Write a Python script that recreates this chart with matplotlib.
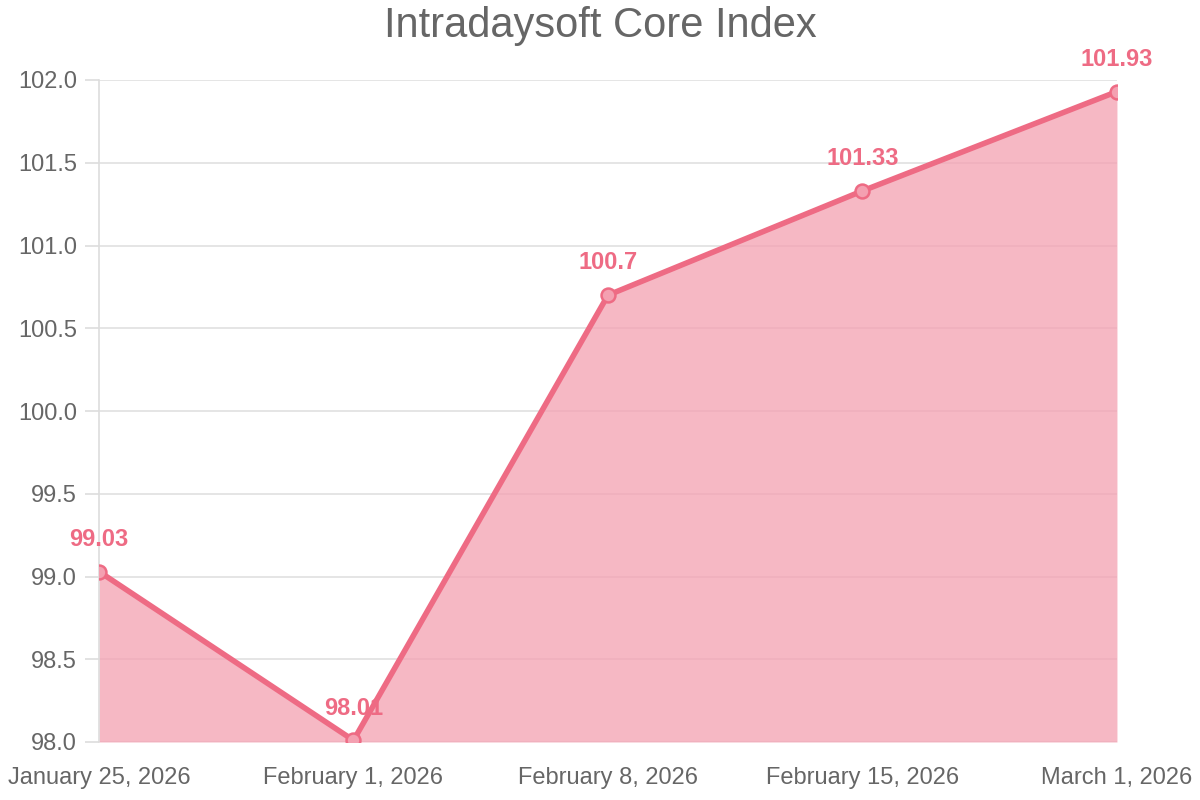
import numpy as np
import matplotlib.pyplot as plt

plt.rcParams['font.family'] = ['Liberation Sans', 'DejaVu Sans']

dates = ['January 25, 2026', 'February 1, 2026', 'February 8, 2026', 'February 15, 2026', 'March 1, 2026']
values = [99.03, 98.01, 100.7, 101.33, 101.93]
labels = ['99.03', '98.01', '100.7', '101.33', '101.93']

line_color = '#ee6b84'
fill_color = '#f4a0b1'

fig = plt.figure(figsize=(12, 8), dpi=100)
ax = fig.add_axes([0.0825, 0.0725, 0.8483, 0.8275])
x = np.arange(len(dates))

ax.fill_between(x, values, 98.0, color=fill_color, alpha=0.75, linewidth=0, zorder=2)
ax.plot(x, values, color=line_color, linewidth=4, zorder=3)
ax.plot(x, values, 'o', markersize=10, markerfacecolor='#f4a0b1', markeredgecolor=line_color,
        markeredgewidth=1.8, zorder=4)

for xi, v, t in zip(x, values, labels):
    ax.annotate(t, (xi, v), xytext=(0, 15), textcoords='offset points', ha='center', va='bottom',
                fontsize=17, fontweight='bold', color=line_color, zorder=5)

ax.set_xlim(0, len(dates) - 1)
ax.set_ylim(98.0, 102.0)
ax.set_yticks(np.arange(98.0, 102.01, 0.5))
ax.set_yticklabels(['%.1f' % v for v in np.arange(98.0, 102.01, 0.5)])
ax.set_xticks(x)
ax.set_xticklabels(dates)
ax.grid(axis='y', color='#e0e0e0', linewidth=1.2, zorder=1)
ax.set_axisbelow(True)

for s in ['top', 'right', 'bottom']:
    ax.spines[s].set_visible(False)
ax.spines['left'].set_color('#dddddd')
ax.spines['left'].set_linewidth(1.2)

ax.tick_params(axis='y', colors='#dddddd', length=10, width=1.2, labelcolor='#666666', labelsize=17, pad=6)
ax.tick_params(axis='x', length=0, labelcolor='#666666', labelsize=17, pad=18)

fig.suptitle('Intradaysoft Core Index', fontsize=30, color='#666666', y=0.993)

plt.savefig('out.png', dpi=100)
